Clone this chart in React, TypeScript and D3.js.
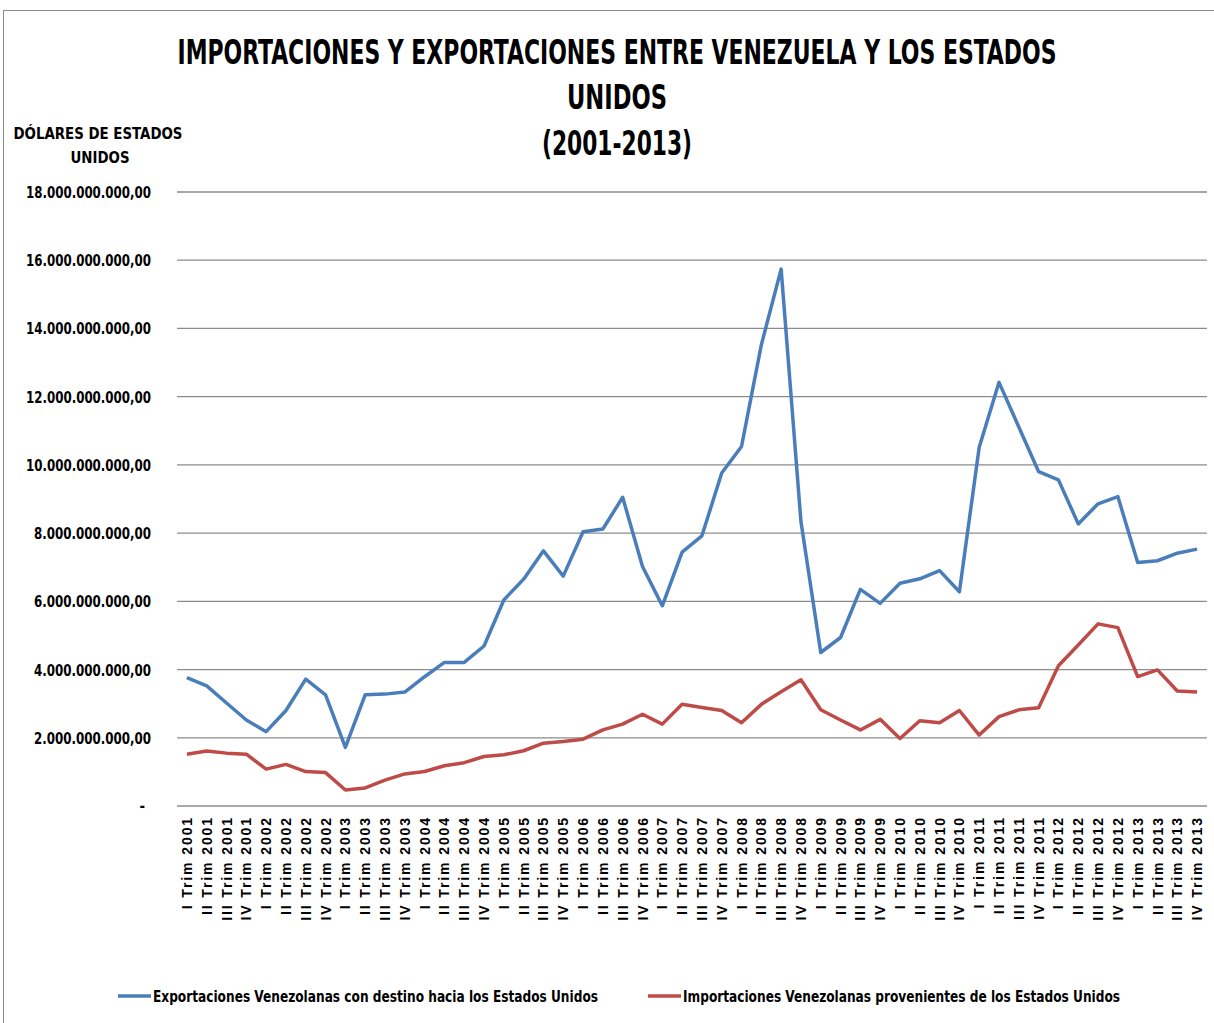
import React from "react";
import * as d3 from "d3";

const years = [2001, 2002, 2003, 2004, 2005, 2006, 2007, 2008, 2009, 2010, 2011, 2012, 2013];
const quarters = ["I", "II", "III", "IV"];
const categories: string[] = years.flatMap((y) => quarters.map((q) => `${q} Trim ${y}`));

const exportsVE = [
  3.76, 3.52, 3.02, 2.52, 2.18, 2.8, 3.72, 3.26,
  1.72, 3.26, 3.28, 3.34, 3.79, 4.21, 4.21, 4.69,
  6.04, 6.65, 7.48, 6.74, 8.04, 8.12, 9.05, 7.02,
  5.87, 7.44, 7.92, 9.76, 10.54, 13.52, 15.74, 8.34,
  4.5, 4.94, 6.35, 5.94, 6.53, 6.66, 6.9, 6.28,
  10.52, 12.42, 11.11, 9.8, 9.56, 8.27, 8.86, 9.07,
  7.14, 7.19, 7.41, 7.53,
].map((v) => v * 1e9);

const importsVE = [
  1.52, 1.61, 1.55, 1.52, 1.08, 1.22, 1.01, 0.98,
  0.47, 0.53, 0.76, 0.94, 1.01, 1.18, 1.27, 1.45,
  1.5, 1.62, 1.84, 1.89, 1.96, 2.23, 2.4, 2.69,
  2.4, 2.98, 2.89, 2.8, 2.44, 2.98, 3.35, 3.7,
  2.82, 2.52, 2.23, 2.54, 1.98, 2.5, 2.44, 2.8,
  2.08, 2.62, 2.82, 2.88, 4.11, 4.72, 5.34, 5.23,
  3.79, 3.99, 3.37, 3.34,
].map((v) => v * 1e9);

const yTicks = [0, 2e9, 4e9, 6e9, 8e9, 10e9, 12e9, 14e9, 16e9, 18e9];

const titleLines = ["IMPORTACIONES Y EXPORTACIONES ENTRE VENEZUELA Y LOS ESTADOS", "UNIDOS", "(2001-2013)"];
const yAxisTitle = ["DÓLARES DE ESTADOS", "UNIDOS"];
const seriesNames = [
  "Exportaciones Venezolanas con destino hacia los Estados Unidos",
  "Importaciones Venezolanas provenientes de los Estados Unidos",
];

const W = 1214;
const H = 1023;
const BLUE = "#4a7ebb";
const RED = "#be4b48";
const GRID = "#8c8c8c";
const NARROW = "'Liberation Sans Narrow', 'DejaVu Sans Condensed', 'Liberation Sans', sans-serif";

function fmt(v: number): string {
  if (v === 0) return "-";
  const s = Math.round(v).toString().replace(/\B(?=(\d{3})+(?!\d))/g, ".");
  return s + ",00";
}

export default function App() {
  const x = d3.scaleBand<string>().domain(categories).range([177, 1207]);
  const y = d3.scaleLinear().domain([0, 18e9]).range([806, 192]);
  const cx = (c: string) => (x(c) ?? 0) + x.bandwidth() / 2;

  const line = d3
    .line<number>()
    .x((_, i) => cx(categories[i]))
    .y((d) => y(d));

  const titleWidths = [879, 100, 150];
  const titleBase = [64, 109, 155];

  return (
    <svg
      width={W}
      height={H}
      style={{ position: "absolute", left: 0, top: 0, background: "#fff" }}
    >
      <rect x={0} y={0} width={W} height={H} fill="#fff" />
      <rect x={3.5} y={10.5} width={1300} height={1100} fill="none" stroke="#8a8a8a" strokeWidth={1} />

      {titleLines.map((t, i) => (
        <text
          key={t}
          x={617}
          y={titleBase[i]}
          textAnchor="middle"
          fontFamily={NARROW}
          fontWeight="bold"
          fontSize={33}
          textLength={titleWidths[i]}
          lengthAdjust="spacingAndGlyphs"
          fill="#000"
        >
          {t}
        </text>
      ))}

      <text x={98} y={139} textAnchor="middle" fontFamily={NARROW} fontWeight="bold" fontSize={15} textLength={169} lengthAdjust="spacingAndGlyphs">
        {yAxisTitle[0]}
      </text>
      <text x={100} y={163} textAnchor="middle" fontFamily={NARROW} fontWeight="bold" fontSize={15} textLength={59} lengthAdjust="spacingAndGlyphs">
        {yAxisTitle[1]}
      </text>

      {yTicks.map((t) => {
        const label = fmt(t);
        return (
          <g key={t}>
            <line x1={177} x2={1207} y1={y(t)} y2={y(t)} stroke={GRID} strokeWidth={1.3} />
            {t === 0 ? (
              <text x={145} y={y(t) + 5} textAnchor="end" fontFamily={NARROW} fontWeight="bold" fontSize={15} fill="#000">
                {label}
              </text>
            ) : (
              <text
                x={151}
                y={y(t) + 6}
                textAnchor="end"
                fontFamily={NARROW}
                fontWeight="bold"
                fontSize={15}
                textLength={label.length >= 17 ? 125 : 117}
                lengthAdjust="spacingAndGlyphs"
                fill="#000"
              >
                {label}
              </text>
            )}
          </g>
        );
      })}

      {categories.map((c) => (
        <text
          key={c}
          transform={`translate(${cx(c)},816) rotate(-90)`}
          textAnchor="end"
          dy="0.36em"
          fontFamily="'Liberation Sans', Arial, sans-serif"
          fontWeight="bold"
          fontSize={14}
          letterSpacing={1.9}
          fill="#000"
        >
          {c}
        </text>
      ))}

      <path d={line(exportsVE) ?? ""} fill="none" stroke={BLUE} strokeWidth={3.5} strokeLinejoin="round" />
      <path d={line(importsVE) ?? ""} fill="none" stroke={RED} strokeWidth={3.5} strokeLinejoin="round" />

      <line x1={118} x2={151} y1={996} y2={996} stroke={BLUE} strokeWidth={3.5} />
      <text x={153} y={1002} fontFamily={NARROW} fontWeight="bold" fontSize={16} textLength={445} lengthAdjust="spacingAndGlyphs">
        {seriesNames[0]}
      </text>
      <line x1={648} x2={681} y1={996} y2={996} stroke={RED} strokeWidth={3.5} />
      <text x={683} y={1002} fontFamily={NARROW} fontWeight="bold" fontSize={16} textLength={437} lengthAdjust="spacingAndGlyphs">
        {seriesNames[1]}
      </text>
    </svg>
  );
}
